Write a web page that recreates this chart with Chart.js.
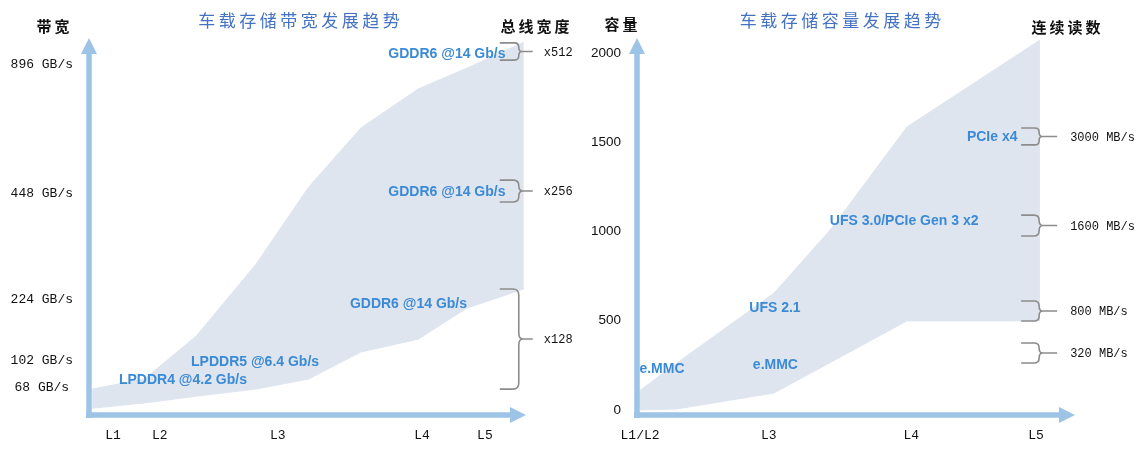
<!DOCTYPE html>
<html>
<head>
<meta charset="utf-8">
<script src="https://cdn.jsdelivr.net/npm/chart.js@4"></script>
<style>
  body { margin: 0; background: #fff; }
  #wrap { position: relative; width: 1143px; height: 456px; }
  #bw { position: absolute; left: 0; top: 0; }
  #cap { position: absolute; left: 580px; top: 0; }
</style>
</head>
<body>
<div id="wrap">
  <canvas id="bw" width="580" height="456"></canvas>
  <canvas id="cap" width="563" height="456"></canvas>
</div>
<script>
// left panel: bandwidth band (relative height units, axis labels are not linear)
const bwX = [0.7, 12.7, 24.5, 38.2, 50.3, 62.2, 75.3, 86.5, 99.5];
const bwTop = [6.4, 9.1, 20.5, 39.7, 60.3, 76.0, 86.4, 92.0, 98.9];
const bwLow = [1.3, 2.7, 4.5, 6.4, 9.1, 16.3, 19.7, 28.0, 33.1];
const bwLevels = ["L1", "L2", "L3", "L4", "L5"];
const bwLevelPos = [5.5, 16.2, 43.2, 76.2, 90.6];
const bwTickLabels = ["68 GB/s", "102 GB/s", "224 GB/s", "448 GB/s", "896 GB/s"];
const bwTickPos = [6.7, 13.9, 30.4, 58.4, 92.8];
const busWidths = ["x512", "x256", "x128"];
const busRange = [[94.1, 98.7], [56.3, 62.1], [6.4, 33.1]];
const bwMems = ["GDDR6 @14 Gb/s", "GDDR6 @14 Gb/s", "GDDR6 @14 Gb/s", "LPDDR5 @6.4 Gb/s", "LPDDR4 @4.2 Gb/s"];

// right panel: capacity band
const capX = [0.5, 9.1, 31.3, 44.5, 61.6, 92.0];
const capTop = [106, 263, 655, 1020, 1585, 2073];
const capLow = [0, 6, 95, 271, 499, 499];
const capLevels = ["L1/L2", "L3", "L4", "L5"];
const capLevelPos = [0.7, 30.1, 62.6, 91.1];
const capTicks = [0, 500, 1000, 1500, 2000];
const readSpeeds = ["3000 MB/s", "1600 MB/s", "800 MB/s", "320 MB/s"];
const readRange = [[1485, 1580], [975, 1092], [499, 611], [263, 375]];
const capMems = ["PCIe x4", "UFS 3.0/PCIe Gen 3 x2", "UFS 2.1", "e.MMC", "e.MMC"];

const BAND = '#dfe5ef';
const AXIS = '#9dc3e6';
const NOTE = '#3b8ad5';
const TITLE = '#4472c4';
const BRACE = '#8c8c8c';

function arrow(ctx, x1, y1, x2, y2) {
  const ang = Math.atan2(y2 - y1, x2 - x1);
  const c = Math.cos(ang), s = Math.sin(ang);
  const bx = x2 - 16 * c, by = y2 - 16 * s;
  ctx.strokeStyle = AXIS;
  ctx.fillStyle = AXIS;
  ctx.lineWidth = 5.5;
  ctx.beginPath();
  ctx.moveTo(x1, y1);
  ctx.lineTo(bx, by);
  ctx.stroke();
  ctx.beginPath();
  ctx.moveTo(x2, y2);
  ctx.lineTo(bx - 8 * s, by + 8 * c);
  ctx.lineTo(bx + 8 * s, by - 8 * c);
  ctx.closePath();
  ctx.fill();
}

function brace(ctx, x, yTop, yBot, w, tick) {
  const ym = (yTop + yBot) / 2;
  const r = Math.min(6, (yBot - yTop) / 4);
  const xv = x + w;
  ctx.strokeStyle = BRACE;
  ctx.lineWidth = 1.6;
  ctx.beginPath();
  ctx.moveTo(x, yTop);
  ctx.lineTo(xv - r, yTop);
  ctx.quadraticCurveTo(xv, yTop, xv, yTop + r);
  ctx.lineTo(xv, ym - r);
  ctx.quadraticCurveTo(xv, ym, xv + r * 0.7, ym);
  ctx.quadraticCurveTo(xv, ym, xv, ym + r);
  ctx.lineTo(xv, yBot - r);
  ctx.quadraticCurveTo(xv, yBot, xv - r, yBot);
  ctx.lineTo(x, yBot);
  ctx.moveTo(xv + r * 0.7, ym);
  ctx.lineTo(xv + tick, ym);
  ctx.stroke();
}

function label(ctx, str, x, y, font, color, spacing, align) {
  ctx.font = font;
  ctx.fillStyle = color;
  ctx.textAlign = align || 'center';
  ctx.textBaseline = 'middle';
  ctx.letterSpacing = (spacing || 0) + 'px';
  ctx.fillText(str, x + (spacing || 0) / 2, y);
  ctx.letterSpacing = '0px';
}

function decor(p) {
  return {
    id: 'decor',
    afterDraw(chart) {
      const { ctx, chartArea: a, scales: { x, y } } = chart;
      ctx.save();
      arrow(ctx, a.left, a.bottom + 3, a.left, a.top);
      arrow(ctx, a.left - 3, a.bottom, a.right, a.bottom);

      label(ctx, p.title, p.titleX, 21, '17px "Noto Sans CJK SC"', TITLE, 3.5);
      label(ctx, p.yHead, p.yHeadX, p.yHeadY, 'bold 15px "Noto Sans CJK SC"', '#111', 3);
      label(ctx, p.rHead, p.rHeadX, p.rHeadY, 'bold 15px "Noto Sans CJK SC"', '#111', 3);

      p.notes.forEach((t, i) => {
        const [nx, ny] = p.notePos[i];
        label(ctx, t, x.getPixelForValue(nx), y.getPixelForValue(ny),
          'bold 14px "Liberation Sans", Arial', NOTE, 0);
      });

      const bx = x.getPixelForValue(p.braceAt);
      p.sideLabels.forEach((t, i) => {
        const [lo, hi] = p.sideRange[i];
        const yt = y.getPixelForValue(hi), yb = y.getPixelForValue(lo);
        brace(ctx, bx, yt, yb, p.braceW, p.braceTick);
        label(ctx, t, bx + p.sideOffset, (yt + yb) / 2 + 1,
          '12px "Liberation Mono", monospace', '#111', 0, 'left');
      });
      ctx.restore();
    }
  };
}

function makePanel(id, p) {
  return new Chart(document.getElementById(id), {
    type: 'line',
    data: {
      datasets: [
        {
          data: p.xs.map((v, i) => ({ x: v, y: p.top[i] })),
          fill: '+1', backgroundColor: BAND, borderColor: BAND,
          borderWidth: 1, pointRadius: 0, tension: 0
        },
        {
          data: p.xs.map((v, i) => ({ x: v, y: p.low[i] })),
          fill: false, borderColor: BAND, borderWidth: 1,
          pointRadius: 0, tension: 0
        }
      ]
    },
    options: {
      responsive: false,
      animation: false,
      layout: { padding: { top: 38, right: p.padRight, left: 0, bottom: 0 } },
      plugins: { legend: { display: false }, tooltip: { enabled: false } },
      scales: {
        x: {
          type: 'linear', min: 0, max: 100,
          grid: { display: false, drawTicks: false }, border: { display: false },
          afterBuildTicks: s => { s.ticks = p.levelPos.map(v => ({ value: v })); },
          afterFit: s => { s.height = 41; },
          ticks: {
            autoSkip: false, maxRotation: 0, padding: 13, color: '#111',
            font: { family: '"Liberation Mono", monospace', size: 13 },
            callback: (v, i) => p.levels[i]
          }
        },
        y: {
          type: 'linear', min: p.yMin, max: p.yMax,
          grid: { display: false, drawTicks: false }, border: { display: false },
          afterBuildTicks: s => { s.ticks = p.tickPos.map(v => ({ value: v })); },
          afterFit: s => { s.width = p.yWidth; },
          ticks: {
            autoSkip: false, padding: 16, crossAlign: p.crossAlign, color: '#111',
            font: p.tickFont,
            callback: (v, i) => p.tickLabels[i]
          }
        }
      }
    },
    plugins: [decor(p)]
  });
}

const bwChart = makePanel('bw', {
  xs: bwX, top: bwTop, low: bwLow,
  levels: bwLevels, levelPos: bwLevelPos,
  tickLabels: bwTickLabels, tickPos: bwTickPos,
  yMin: -0.5, yMax: 100, yWidth: 89, padRight: 54, crossAlign: 'center',
  tickFont: { family: '"Liberation Mono", monospace', size: 13 },
  title: '车载存储带宽发展趋势', titleX: 299,
  yHead: '带宽', yHeadX: 53, yHeadY: 26,
  rHead: '总线宽度', rHeadX: 535, rHeadY: 26,
  notes: bwMems,
  notePos: [[81.9, 95.7], [81.9, 58.9], [73.1, 29.1], [38.0, 13.6], [21.5, 8.8]],
  sideLabels: busWidths, sideRange: busRange,
  braceAt: 94.0, braceW: 19, braceTick: 14, sideOffset: 44
});

const capChart = makePanel('cap', {
  xs: capX, top: capTop, low: capLow,
  levels: capLevels, levelPos: capLevelPos,
  tickLabels: capTicks.map(String), tickPos: capTicks,
  yMin: -28, yMax: 2084, yWidth: 57, padRight: 68, crossAlign: 'near',
  tickFont: { family: '"Liberation Sans", Arial', size: 13.5 },
  title: '车载存储容量发展趋势', titleX: 260.5,
  yHead: '容量', yHeadX: 41, yHeadY: 24,
  rHead: '连续读数', rHeadX: 486, rHeadY: 27,
  notes: capMems,
  notePos: [[81.1, 1529], [61.0, 1059], [31.5, 571], [31.6, 252], [5.7, 230]],
  sideLabels: readSpeeds, sideRange: readRange,
  braceAt: 87.7, braceW: 18, braceTick: 18, sideOffset: 49
});
</script>
</body>
</html>
